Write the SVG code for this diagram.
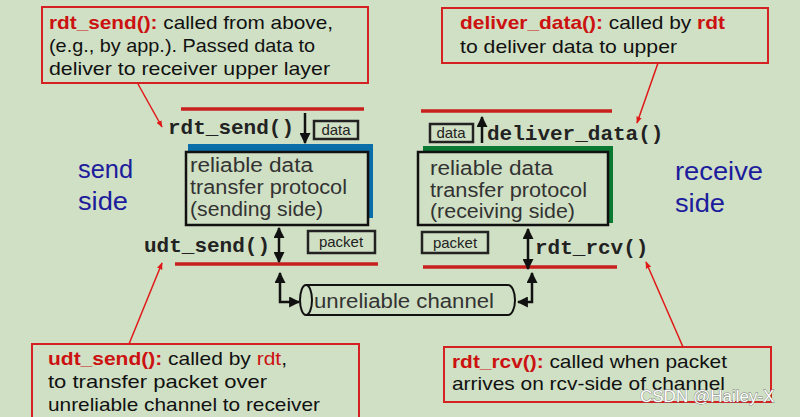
<svg xmlns="http://www.w3.org/2000/svg" width="800" height="417" viewBox="0 0 800 417">
<defs>
<style>
.bg{fill:#d0e0c4}
.callout{fill:none;stroke:#d42222;stroke-width:2}
.ct{font-family:"Liberation Sans","DejaVu Sans",sans-serif;font-size:19px;fill:#111}
.fn{fill:#cc1111;font-weight:bold}
.rd{fill:#cc1111}
.mono{font-family:"Liberation Mono","DejaVu Sans Mono",monospace;font-size:21px;font-weight:bold;fill:#222}
.proto{font-family:"Liberation Sans","DejaVu Sans",sans-serif;font-size:20px;fill:#333}
.side{font-family:"Liberation Sans","DejaVu Sans",sans-serif;font-size:25px;fill:#1c1c9c}
.small{font-family:"Liberation Sans","DejaVu Sans",sans-serif;font-size:15px;fill:#222}
.tag{fill:none;stroke:#222;stroke-width:2.5}
.redline{stroke:#c8201e;stroke-width:3.5}
.lead{stroke:#e01818;stroke-width:1.5;fill:none}
.blk{stroke:#111;stroke-width:2.5;fill:none}
</style>
<marker id="ra" viewBox="0 0 10 10" refX="9" refY="5" markerWidth="7" markerHeight="7" orient="auto-start-reverse" markerUnits="userSpaceOnUse">
<path d="M0,1 L10,5 L0,9 z" fill="#e01818"/>
</marker>
<marker id="ba" viewBox="0 0 10 10" refX="9" refY="5" markerWidth="11" markerHeight="11" orient="auto-start-reverse" markerUnits="userSpaceOnUse">
<path d="M0,0 L10,5 L0,10 z" fill="#111"/>
</marker>
</defs>
<rect class="bg" x="0" y="0" width="800" height="417"/>

<g id="rdt_send_note">
<rect class="callout" x="42" y="7" width="326" height="76"/>
<text class="ct" x="49" y="29" textLength="284" lengthAdjust="spacingAndGlyphs"><tspan class="fn">rdt_send():</tspan> called from above,</text>
<text class="ct" x="49" y="52" textLength="266" lengthAdjust="spacingAndGlyphs">(e.g., by app.). Passed data to</text>
<text class="ct" x="49" y="75" textLength="281" lengthAdjust="spacingAndGlyphs">deliver to receiver upper layer</text>
</g>

<g id="deliver_data_note">
<rect class="callout" x="442" y="8" width="326" height="55"/>
<text class="ct" x="460" y="29" textLength="265" lengthAdjust="spacingAndGlyphs"><tspan class="fn">deliver_data():</tspan> called by <tspan class="fn">rdt</tspan></text>
<text class="ct" x="460" y="53" textLength="217" lengthAdjust="spacingAndGlyphs">to deliver data to upper</text>
</g>

<g id="udt_send_note">
<rect class="callout" x="32" y="344" width="327" height="80"/>
<text class="ct" x="48" y="365" textLength="239" lengthAdjust="spacingAndGlyphs"><tspan class="fn">udt_send():</tspan> called by <tspan class="rd">rdt</tspan>,</text>
<text class="ct" x="48" y="388" textLength="219" lengthAdjust="spacingAndGlyphs">to transfer packet over</text>
<text class="ct" x="48" y="411" textLength="272" lengthAdjust="spacingAndGlyphs">unreliable channel to receiver</text>
</g>

<g id="rdt_rcv_note">
<rect class="callout" x="444" y="347" width="327" height="55"/>
<text class="ct" x="452" y="368" textLength="275" lengthAdjust="spacingAndGlyphs"><tspan class="fn">rdt_rcv():</tspan> called when packet</text>
<text class="ct" x="452" y="390" textLength="273" lengthAdjust="spacingAndGlyphs">arrives on rcv-side of channel</text>
</g>

<g id="send_side">
<text class="side" x="78" y="178" textLength="55" lengthAdjust="spacingAndGlyphs">send</text>
<text class="side" x="78" y="210" textLength="50" lengthAdjust="spacingAndGlyphs">side</text>
</g>
<g id="receive_side">
<text class="side" x="675" y="180" textLength="88" lengthAdjust="spacingAndGlyphs">receive</text>
<text class="side" x="675" y="212" textLength="50" lengthAdjust="spacingAndGlyphs">side</text>
</g>

<g id="sender">
<line class="redline" x1="181" y1="109" x2="364" y2="109"/>
<text class="mono" x="168" y="134">rdt_send()</text>
<rect class="tag" x="314" y="121" width="44" height="18"/>
<text class="small" x="336" y="135" text-anchor="middle">data</text>
<rect x="188" y="144" width="185" height="74" fill="#0a6ea8"/>
<rect x="186" y="152" width="182" height="73" fill="#d0e0c4" stroke="#111" stroke-width="2.5"/>
<text class="proto" x="190" y="172" textLength="123" lengthAdjust="spacingAndGlyphs">reliable data</text>
<text class="proto" x="190" y="194" textLength="157" lengthAdjust="spacingAndGlyphs">transfer protocol</text>
<text class="proto" x="190" y="216" textLength="133" lengthAdjust="spacingAndGlyphs">(sending side)</text>
<text class="mono" x="144" y="252">udt_send()</text>
<rect class="tag" x="308" y="231" width="67" height="22"/>
<text class="small" x="341" y="247" text-anchor="middle">packet</text>
<line class="redline" x1="175" y1="264" x2="378" y2="264"/>
</g>

<g id="receiver">
<line class="redline" x1="421" y1="111" x2="612" y2="111"/>
<rect class="tag" x="430" y="124" width="43" height="18"/>
<text class="small" x="451" y="138" text-anchor="middle">data</text>
<text class="mono" x="487" y="140">deliver_data()</text>
<rect x="423" y="146" width="190" height="77" fill="#0a7a32"/>
<rect x="418" y="152" width="190" height="73" fill="#d0e0c4" stroke="#111" stroke-width="2.5"/>
<text class="proto" x="430" y="175" textLength="123" lengthAdjust="spacingAndGlyphs">reliable data</text>
<text class="proto" x="430" y="197" textLength="157" lengthAdjust="spacingAndGlyphs">transfer protocol</text>
<text class="proto" x="430" y="218" textLength="145" lengthAdjust="spacingAndGlyphs">(receiving side)</text>
<rect class="tag" x="422" y="232" width="66" height="21"/>
<text class="small" x="455" y="248" text-anchor="middle">packet</text>
<text class="mono" x="535" y="254">rdt_rcv()</text>
<line class="redline" x1="423" y1="267" x2="617" y2="267"/>
</g>

<g id="channel">
<path d="M306,285 H508 A7,15 0 0 1 508,315 H306" fill="#d0e0c4" stroke="#111" stroke-width="2"/>
<ellipse cx="306" cy="300" rx="6" ry="15" fill="#d0e0c4" stroke="#111" stroke-width="2"/>
<text x="314" y="308" font-family="'Liberation Sans','DejaVu Sans',sans-serif" font-size="20" fill="#333" textLength="180" lengthAdjust="spacingAndGlyphs">unreliable channel</text>
</g>

<g id="connectors">
<line class="lead" x1="138" y1="84" x2="162" y2="127" marker-end="url(#ra)"/>
<line class="lead" x1="658" y1="63" x2="637" y2="123" marker-end="url(#ra)"/>
<line class="lead" x1="129" y1="344" x2="162" y2="263" marker-end="url(#ra)"/>
<line class="lead" x1="683" y1="347" x2="646" y2="262" marker-end="url(#ra)"/>
<line class="blk" x1="305" y1="113" x2="305" y2="143" marker-end="url(#ba)"/>
<line class="blk" x1="482" y1="143" x2="482" y2="117" marker-end="url(#ba)"/>
<line class="blk" x1="279" y1="228" x2="279" y2="262" marker-start="url(#ba)" marker-end="url(#ba)"/>
<line class="blk" x1="528" y1="229" x2="528" y2="269" marker-start="url(#ba)" marker-end="url(#ba)"/>
<path class="blk" d="M280,273 V302 H299" marker-start="url(#ba)" marker-end="url(#ba)"/>
<path class="blk" d="M532,273 V302 H518" marker-start="url(#ba)" marker-end="url(#ba)"/>
</g>

<text x="640" y="402" font-family="'Liberation Sans','DejaVu Sans',sans-serif" font-size="17" fill="#ffffff" stroke="#777777" stroke-width="0.8" paint-order="stroke">CSDN @Hailey-X</text>
</svg>
